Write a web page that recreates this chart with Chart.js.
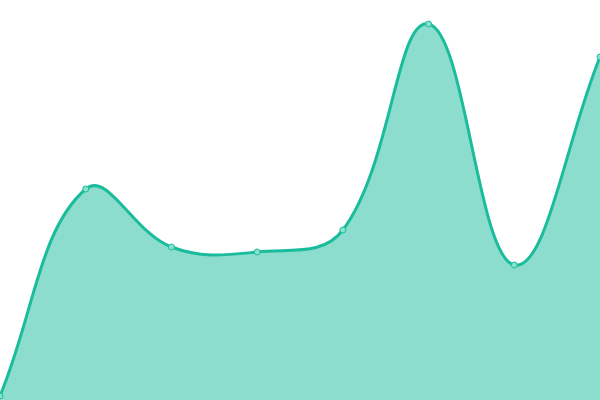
<!DOCTYPE html>
<html>
<head>
<meta charset="utf-8">
<script src="https://cdn.jsdelivr.net/npm/chart.js@4"></script>
<style>
  html, body { margin: 0; padding: 0; background: #fff; }
  #wrap { width: 600px; height: 400px; }
</style>
</head>
<body>
<div id="wrap"><canvas id="chart"></canvas></div>
<script>
// data
const labels = ['1', '2', '3', '4', '5', '6', '7', '8'];
const values = [4, 211, 153, 148, 170, 376, 135, 343];
const yMin = 0;
const yMax = 400;

const ctx = document.getElementById('chart').getContext('2d');
new Chart(ctx, {
    type: 'line',
    data: {
        labels: labels,
        datasets: [{
            data: values,
            borderColor: '#1abc9c',
            backgroundColor: 'rgba(26, 188, 156, 0.5)',
            borderWidth: 3,
            fill: 'origin',
            tension: 0.4,
            pointRadius: 3,
            pointBorderWidth: 1,
            pointBackgroundColor: '#8ae0cf',
            pointBorderColor: '#1abc9c'
        }]
    },
    options: {
        responsive: true,
        maintainAspectRatio: false,
        animation: false,
        layout: { padding: 0, autoPadding: false },
        plugins: { legend: { display: false }, tooltip: { enabled: false } },
        scales: {
            x: { display: false },
            y: { display: false, min: yMin, max: yMax }
        }
    }
});
</script>
</body>
</html>
